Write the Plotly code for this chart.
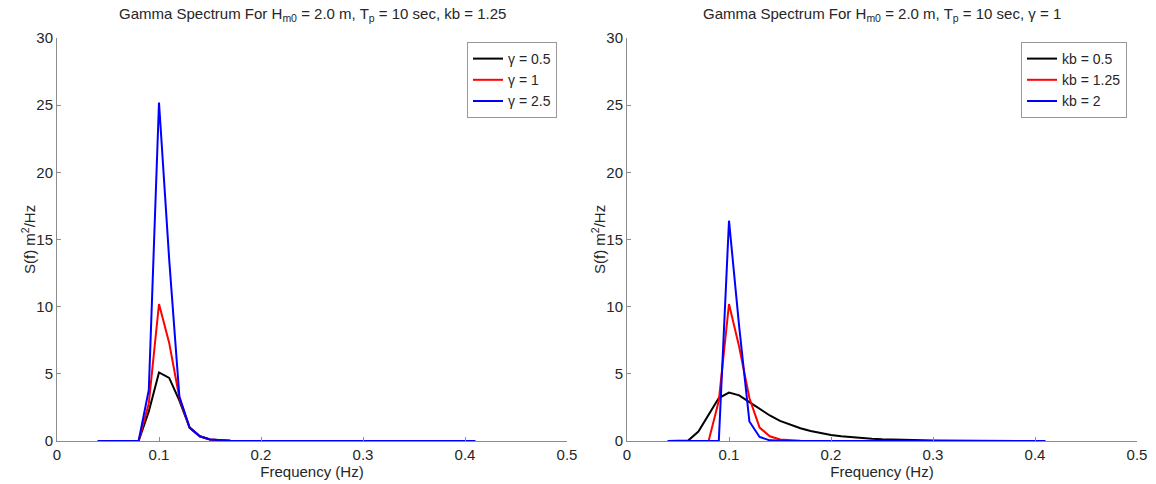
import plotly.graph_objects as go
from plotly.subplots import make_subplots

# frequency grid (Hz)
freq = [0.04, 0.05, 0.06, 0.07, 0.08, 0.09, 0.10, 0.11, 0.12, 0.13,
        0.14, 0.15, 0.16, 0.17, 0.18, 0.19, 0.20, 0.21, 0.22, 0.23,
        0.24, 0.25, 0.26, 0.27, 0.28, 0.29, 0.30, 0.31, 0.32, 0.33,
        0.34, 0.35, 0.36, 0.37, 0.38, 0.39, 0.40, 0.41]

TAIL = [0.0] * 24

# left panel: kb = 1.25, varying gamma
gamma_labels = ["γ = 0.5", "γ = 1", "γ = 2.5"]
s_gamma_05 = [0, 0, 0, 0, 0, 2.2, 5.1, 4.7, 3.0, 1.0, 0.35, 0.12, 0.04, 0.01] + TAIL
s_gamma_1 = [0, 0, 0, 0, 0, 2.8, 10.2, 7.3, 3.2, 1.0, 0.35, 0.12, 0.04, 0.01] + TAIL
s_gamma_25 = [0, 0, 0, 0, 0, 3.8, 25.2, 13.5, 3.3, 1.0, 0.35, 0.12, 0.04, 0.01] + TAIL

# right panel: gamma = 1, varying kb
kb_labels = ["kb = 0.5", "kb = 1.25", "kb = 2"]
s_kb_05 = [0, 0, 0.03, 0.7, 2.0, 3.2, 3.6, 3.4, 2.9, 2.4,
           1.9, 1.5, 1.2, 0.95, 0.75, 0.58, 0.45, 0.36, 0.28, 0.22,
           0.17, 0.13, 0.10, 0.08, 0.06, 0.05, 0.04, 0.03, 0.02, 0.015,
           0.01, 0.01, 0.005, 0.005, 0, 0, 0, 0]
s_kb_125 = [0, 0, 0, 0, 0, 3.0, 10.2, 7.0, 3.2, 1.0, 0.35, 0.12, 0.04, 0.01] + TAIL
s_kb_2 = [0, 0, 0, 0, 0, 0, 16.4, 8.5, 1.45, 0.3, 0.05, 0.01, 0, 0] + TAIL

COLORS = ["#000000", "#ff0000", "#0000ff"]
FONT = "Liberation Sans, Arial, sans-serif"
AXIS_GRAY = "#8c8c8c"
TEXT = "#262626"

W, H = 1156, 484

fig = make_subplots(rows=1, cols=2)

for name, ys, c in zip(gamma_labels, [s_gamma_05, s_gamma_1, s_gamma_25], COLORS):
    fig.add_trace(go.Scatter(x=freq, y=ys, mode="lines", name=name,
                             line=dict(color=c, width=2), legend="legend"), row=1, col=1)

for name, ys, c in zip(kb_labels, [s_kb_05, s_kb_125, s_kb_2], COLORS):
    fig.add_trace(go.Scatter(x=freq, y=ys, mode="lines", name=name,
                             line=dict(color=c, width=2), legend="legend2"), row=1, col=2)

# panel positions in pixels
left_x = (57 / W, 567 / W)
right_x = (627 / W, 1137 / W)
y_dom = (1 - 441 / H, 1 - 38 / H)

axis_style = dict(
    showline=True, linecolor=AXIS_GRAY, linewidth=1,
    ticks="inside", ticklen=4, tickcolor=AXIS_GRAY,
    showgrid=False, zeroline=False, automargin=False,
    tickfont=dict(family=FONT, size=15, color=TEXT),
    title_font=dict(family=FONT, size=15, color=TEXT),
)

fig.update_xaxes(range=[0, 0.5], dtick=0.1, title_text="Frequency (Hz)",
                 title_standoff=0, **axis_style)
fig.update_yaxes(range=[0, 30], dtick=5, **axis_style)
fig.update_xaxes(domain=left_x, row=1, col=1)
fig.update_xaxes(domain=right_x, row=1, col=2)
fig.update_yaxes(domain=y_dom)

title_font = dict(family=FONT, size=15, color=TEXT)
titles = [
    "Gamma Spectrum For H<sub>m0</sub> = 2.0 m, T<sub>p</sub> = 10 sec, kb = 1.25",
    "Gamma Spectrum For H<sub>m0</sub> = 2.0 m, T<sub>p</sub> = 10 sec, γ = 1",
]
for t, dom in zip(titles, [left_x, right_x]):
    fig.add_annotation(text=t, x=(dom[0] + dom[1]) / 2, y=1 - 14 / H,
                       xref="paper", yref="paper", showarrow=False,
                       xanchor="center", yanchor="middle", font=title_font)

# y-axis titles placed as rotated annotations, clear of the tick labels
for xpix in (28, 598):
    fig.add_annotation(text="S(f) m<sup>2</sup>/Hz", x=xpix / W, y=1 - 240 / H,
                       xref="paper", yref="paper", showarrow=False, textangle=-90,
                       xanchor="center", yanchor="middle", font=title_font)

legend_style = dict(
    xanchor="right", yanchor="top",
    bgcolor="white", bordercolor="#999999", borderwidth=1,
    font=dict(family=FONT, size=14, color=TEXT),
    tracegroupgap=0, itemwidth=30,
)
fig.update_layout(
    width=W, height=H,
    margin=dict(l=0, r=0, t=0, b=0),
    paper_bgcolor="white", plot_bgcolor="white",
    font=dict(family=FONT, color=TEXT),
    legend=dict(x=557 / W, y=1 - 42 / H, **legend_style),
    legend2=dict(x=1127 / W, y=1 - 42 / H, **legend_style),
    showlegend=True,
)

# drop the browser's default body margin so the figure fills the window
fig.write_html("out.html", config={"displayModeBar": False},
               post_script="document.body.style.margin = '0';")
